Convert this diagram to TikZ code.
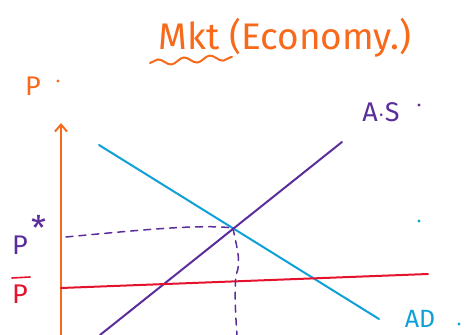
\documentclass[tikz,border=0pt]{standalone}
\usepackage{fontspec}
\setmainfont{Fira Sans}
\usetikzlibrary{decorations.pathmorphing,arrows.meta}
\definecolor{hOrange}{HTML}{F76A1C}
\definecolor{hBlue}{HTML}{0EA0D6}
\definecolor{hPurple}{HTML}{5A2D9B}
\definecolor{hRed}{HTML}{E5122E}
\tikzset{
  pen/.style={line width=2pt, line cap=round},
  dashpen/.style={line width=1.5pt, hPurple, dash pattern=on 7pt off 6pt, line cap=round},
  lbl/.style={inner sep=0pt, anchor=center},
  dotmark/.style={circle, fill, inner sep=0pt, minimum size=3.2pt}
}
\begin{document}
\begin{tikzpicture}[x=1pt,y=-1pt]
\useasboundingbox (0,0) rectangle (467,335);
% title
\node[lbl, text=hOrange, font=\fontsize{37}{40}\selectfont] (title) at (285,38) {Mkt (Economy.)};
\draw[hOrange, line width=2pt, line cap=round, decorate, decoration={snake, amplitude=3pt, segment length=26pt}] (150,63) -- (232,57);
% axis
\coordinate (axB) at (61,335);
\coordinate (axT) at (61,123);
\draw[pen, hOrange, -{Straight Barb[length=7pt,width=12pt]}] (axB) -- (axT);
\node[lbl, text=hOrange, font=\fontsize{27}{29}\selectfont] (plab) at (33,86) {P};
\node[dotmark, hOrange] (pdot) at (58,81) {};
% AD
\coordinate (adA) at (99,145);
\coordinate (adB) at (379,319);
\draw[pen, hBlue] (adA) -- (adB);
\node[lbl, text=hBlue, font=\fontsize{25}{27}\selectfont] (adlab) at (420,319) {AD};
\node[dotmark, hBlue] (addot) at (459,324) {};
\node[dotmark, hBlue] (bdot) at (419,221) {};
% AS
\coordinate (asA) at (100,335);
\coordinate (asB) at (342,142);
\draw[pen, hPurple] (asA) -- (asB);
\node[lbl, text=hPurple, font=\fontsize{27}{29}\selectfont] (aslab) at (381,112) {A$\cdot$S};
\node[dotmark, hPurple] (asdot) at (419,105) {};
% Red line
\coordinate (rA) at (61,288);
\coordinate (rB) at (428,274);
\draw[pen, hRed] (rA) -- (rB);
% labels
\node[lbl, text=hPurple, font=\fontsize{27}{29}\selectfont] (pstar) at (20,245) {P};
\node[lbl, text=hPurple, font=\fontsize{34}{36}\selectfont] (star) at (39,228) {*};
\node[lbl, text=hRed, font=\fontsize{27}{29}\selectfont] (pbar) at (20,294) {P};
\draw[hRed, line width=1.6pt, line cap=round] (12,278) -- (30,277);
% equilibrium dashes
\coordinate (eq) at (233,228);
\coordinate (px) at (66,237);
\coordinate (qx) at (237,335);
\draw[dashpen] (px) .. controls (140,230) and (200,224) .. (eq);
\draw[dashpen] (eq) .. controls (236,245) and (242,262) .. (236,275) .. controls (234,295) and (236,320) .. (qx);
\end{tikzpicture}
\end{document}
